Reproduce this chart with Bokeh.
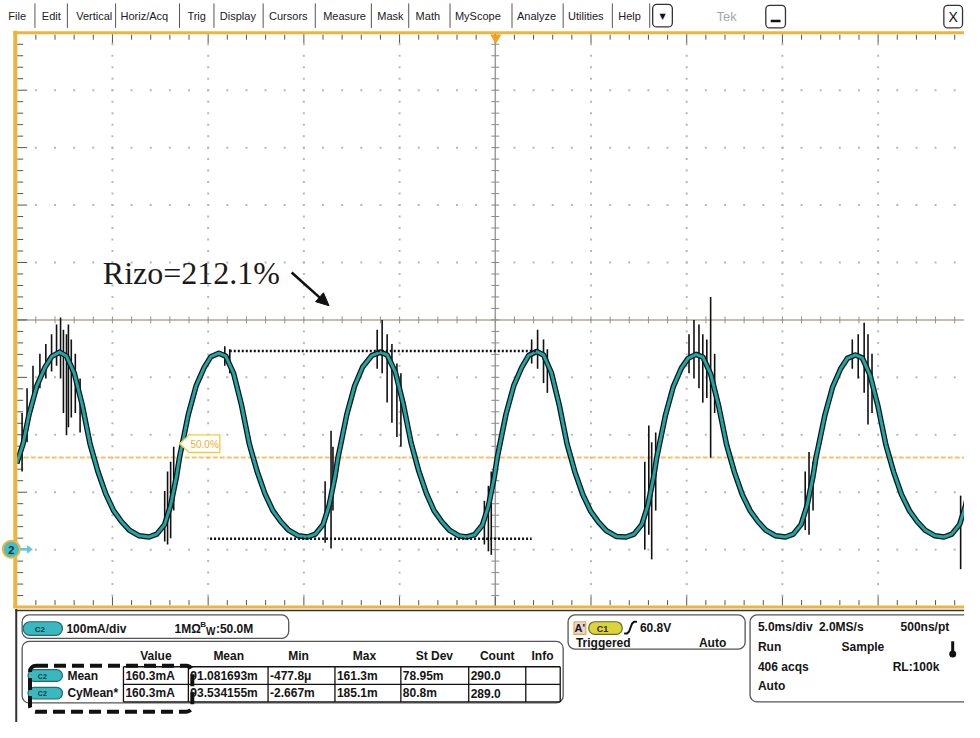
import numpy as np
from bokeh.plotting import figure
from bokeh.models import Range1d
from bokeh.embed import file_html
from bokeh.resources import INLINE
from bokeh.core.properties import value

# ---------------- data ----------------
# Channel 2 current, time in ms (trigger = 0), current in mA
trace_t_ms = [
    -25.00, -24.67, -24.36, -23.95, -23.53, -23.18, -22.76, -22.40, -21.99, -21.58, -21.17, -20.76, -20.35, -19.94, -19.53, -19.12, -18.60,
    -18.09, -17.68, -17.27, -16.96, -16.65, -16.50, -16.35, -16.04, -15.63, -15.21, -14.86, -14.44, -14.08, -13.67, -13.26, -12.85, -12.44, -12.03, -11.62, -11.21, -10.80, -10.28,
    -9.81, -9.40, -8.99, -8.68, -8.37, -8.22, -8.07, -7.76, -7.35, -6.93, -6.45, -6.00, -5.65, -5.22, -4.81, -4.40, -4.00, -3.60, -3.20, -2.80, -2.40, -1.90,
    -1.49, -1.08, -0.67, -0.36, -0.05, 0.10, 0.25, 0.56, 0.97, 1.39, 1.74, 2.16, 2.52, 2.93, 3.34, 3.75, 4.16, 4.57, 4.98, 5.39, 5.80, 6.32,
    6.84, 7.25, 7.66, 7.97, 8.28, 8.43, 8.58, 8.89, 9.30, 9.72, 10.07, 10.49, 10.85, 11.26, 11.67, 12.08, 12.49, 12.90, 13.31, 13.72, 14.13, 14.65,
    15.16, 15.57, 15.98, 16.29, 16.60, 16.75, 16.90, 17.21, 17.62, 18.04, 18.39, 18.81, 19.17, 19.58, 19.99, 20.40, 20.81, 21.22, 21.63, 22.04, 22.45, 22.97,
    23.44, 23.85, 24.26, 24.57, 24.88,
]
trace_i_mA = [
    150, 184, 235, 285, 317, 336, 344, 337, 307, 252, 184, 136, 97, 68, 49, 34, 24,
    22, 27, 44, 77, 128, 160, 184, 235, 285, 317, 336, 342, 337, 307, 252, 184, 136, 97, 68, 49, 34, 24,
    22, 27, 44, 77, 128, 160, 184, 235, 285, 318, 338, 344, 339, 309, 254, 186, 137, 98, 68, 49, 34, 24,
    22, 26, 43, 76, 127, 160, 185, 236, 286, 318, 338, 345, 339, 308, 252, 184, 135, 96, 67, 48, 33, 23,
    22, 27, 44, 77, 128, 160, 184, 234, 284, 316, 333, 340, 335, 305, 250, 183, 135, 96, 68, 49, 34, 24,
    22, 27, 44, 77, 128, 160, 183, 233, 283, 315, 333, 339, 334, 304, 250, 183, 135, 96, 68, 49, 34, 24,
    22, 27, 44, 77, 128,
]
# noise spikes on the raw (black) trace
spike_t_ms = [-24.72, -24.46, -24.15, -23.79, -23.48, -23.18, -22.92, -22.71, -22.56, -22.40, -22.30, -22.15, -21.94, -21.69,
              -17.27, -17.12, -16.96, -16.80, -14.13, -13.87, -8.89, -8.58, -8.48,
              -6.17, -5.91, -5.65, -5.40, -5.14, -4.93, -0.57, -0.36, -0.21,
              1.90, 2.21, 2.52, 2.72, 7.81, 8.02, 8.17, 8.38,
              10.12, 10.38, 10.64, 10.84, 11.05, 11.25, 11.46, 16.19, 16.39, 16.60,
              18.65, 18.96, 19.27, 19.47, 19.68, 24.31]
spike_hi_mA = [238, 281, 320, 341, 358, 375, 392, 404, 383, 375, 392, 366, 341, 298,
               102, 136, 153, 179, 354, 349, 119, 207, 179,
               383, 400, 375, 358, 324, 307, 85, 111, 136,
               366, 383, 366, 349, 153, 216, 187, 204,
               375, 400, 392, 375, 366, 440, 341, 136, 170, 153,
               366, 375, 395, 375, 341, 94]
spike_lo_mA = [136, 187, 247, 281, 298, 310, 320, 298, 238, 199, 213, 230, 238, 204,
               14, 9, 20, 68, 320, 307, 12, 2, 68,
               315, 307, 256, 221, 196, 179, 9, -3, -9,
               324, 315, 290, 273, 0, 26, -17, 68,
               307, 298, 281, 256, 264, 160, 238, 34, 26, 68,
               315, 298, 273, 218, 238, -34]
trigger_level_mA = 160.3
ref_hi_mA, ref_hi_t = 346, [-13.87, 2.16]
ref_lo_mA, ref_lo_t = 19, [-14.90, 1.90]

menu_items = ["File", "Edit", "Vertical", "Horiz/Acq", "Trig", "Display", "Cursors",
              "Measure", "Mask", "Math", "MyScope", "Analyze", "Utilities", "Help"]
table_headers = ["Value", "Mean", "Min", "Max", "St Dev", "Count", "Info"]
row_names = ["Mean", "CyMean*"]
row_values = [["160.3mA", "91.081693m", "-477.8\u03bc", "161.3m", "78.95m", "290.0", ""],
              ["160.3mA", "93.534155m", "-2.667m", "185.1m", "80.8m", "289.0", ""]]

# ---------------- layout geometry ----------------
T0_PX, PX_PER_MS = 503.0, 19.46      # screen x of t=0, px per ms (reference pixels)
I0_PX, PX_PER_MA = 561.3, 0.587      # screen y of 0 mA, px per mA
REF_W, REF_H = 980, 738              # reference picture size
W, H = 964, 722                      # figure size (fits window with 8px margin)

def ms_at(px):
    return (px - T0_PX) / PX_PER_MS

def ma_at(py):
    return (I0_PX - py) / PX_PER_MA

p = figure(width=W, height=H, output_backend="svg", toolbar_location=None, title=None,
           x_range=Range1d(ms_at(0), ms_at(REF_W)),
           y_range=Range1d(ma_at(REF_H), ma_at(0)),
           x_axis_location=None, y_axis_location=None, min_border=0,
           border_fill_color="white", background_fill_color="white")
p.outline_line_color = None
p.grid.visible = False
p.extra_x_ranges = {"px": Range1d(0, REF_W)}
p.extra_y_ranges = {"px": Range1d(REF_H, 0)}
PX = dict(x_range_name="px", y_range_name="px")
FONT = "Liberation Sans"

def txt(x, y, s, size=12, bold=True, color="#151515", align="left", font=FONT, baseline="middle"):
    p.text(x=[x], y=[y], text=[s], text_font=value(font), text_font_size=f"{size}px",
           text_font_style="bold" if bold else "normal", text_color=color,
           text_align=align, text_baseline=baseline, **PX)

def rbox(l, t, r, b, radius=6, line_color="#555555", line_width=1.3, fill_color=None, dash="solid"):
    p.quad(left=[l], right=[r], top=[t], bottom=[b], border_radius=int(radius),
           line_color=line_color, line_width=line_width, fill_color=fill_color,
           line_dash=dash, **PX)

def pline(xs, ys, **kw):
    p.line(xs, ys, **PX, **kw)

# ---------------- graticule ----------------
T_DIV, I_DIV = 5.0, 100.0
t_left, t_right, i_bot, i_top = -25.0, 25.0, -100.0, 900.0
t_mid, i_mid = 0.0, 400.0
major_t = [t_left + k * T_DIV for k in range(1, 10) if k != 5]
major_i = [i_bot + k * I_DIV for k in range(1, 10) if k != 5]
minor_t = [t_left + k * T_DIV / 5 for k in range(1, 50)]
minor_i = [i_bot + k * I_DIV / 5 for k in range(1, 50)]
gx = [t for t in major_t for _ in minor_i] + [t for _ in major_i for t in minor_t]
gy = [i for _ in major_t for i in minor_i] + [i for i in major_i for _ in minor_t]
p.scatter(gx, gy, marker="square", size=2, fill_color="#b8b8b8", line_color=None)

p.line([t_left, t_right], [i_mid, i_mid], line_color="#b1a893", line_width=1.5)
p.line([t_mid, t_mid], [i_bot, i_top], line_color="#9c9c9c", line_width=1.5)
p.scatter(minor_t, [i_mid] * len(minor_t), marker="dash", angle=np.pi / 2, size=7,
          line_color="#9a927f", line_width=1)
p.scatter([t_mid] * len(minor_i), minor_i, marker="dash", size=8, line_color="#8a8a8a", line_width=1)

is_major_t = [abs(t / T_DIV - round(t / T_DIV)) < 1e-6 for t in minor_t]
is_major_i = [abs((i - i_bot) / I_DIV - round((i - i_bot) / I_DIV)) < 1e-6 for i in minor_i]
for edge_py, edge_major_py in [(37.5, 39.0), (615.5, 614.0)]:
    p.scatter(minor_t, [ma_at(edge_major_py) if m else ma_at(edge_py) for m in is_major_t],
              marker="dash", angle=np.pi / 2, size=[9 if m else 5 for m in is_major_t],
              line_color="#555555", line_width=1)
p.scatter([ms_at(22) if m else ms_at(20) for m in is_major_i], minor_i, marker="dash",
          size=[10 if m else 6 for m in is_major_i], line_color="#555555", line_width=1)

# trigger level (50%)
p.line([t_left, t_right], [trigger_level_mA] * 2, line_color="#f3c468", line_width=2, line_dash="5 2")

# ---------------- waveform ----------------
p.line(trace_t_ms, trace_i_mA, line_color="#111111", line_width=5.5, line_join="round")
p.segment(x0=spike_t_ms, y0=spike_lo_mA, x1=spike_t_ms, y1=spike_hi_mA, line_color="#111111", line_width=1.6)
p.line(trace_t_ms, trace_i_mA, line_color="#1fa5a5", line_width=3, line_join="round")

# dotted reference levels
p.line(ref_hi_t, [ref_hi_mA] * 2, line_color="#111111", line_width=2.5, line_dash="2 2")
p.line(ref_lo_t, [ref_lo_mA] * 2, line_color="#111111", line_width=2.5, line_dash="2 2")

# 50% label
p.patch([182, 192, 223, 223, 192], [453, 444, 444, 462, 462], fill_color="white",
        line_color="#f5c842", line_width=1.3, **PX)
txt(207.5, 453.5, "50.0%", size=10, bold=False, color="#f0b030", align="center")

# Rizo annotation
txt(104, 279, "Rizo=212.1%", size=32, bold=False, color="#1a1a1a", font="Liberation Serif",
    baseline="alphabetic")
pline([296, 326], [278, 305], line_color="#111111", line_width=2.5)
p.patch([334, 320.3, 328.3], [312, 307.8, 298.8], fill_color="#111111", line_color="#111111", **PX)

# ---------------- frame borders ----------------
ORANGE = "#f0b43c"
pline([13, REF_W], [33, 33], line_color=ORANGE, line_width=3)
pline([15, 15], [31, 621], line_color=ORANGE, line_width=4)
pline([13, REF_W], [620, 620], line_color=ORANGE, line_width=3)
pline([15, REF_W], [623.5, 623.5], line_color="#333333", line_width=1.5)
pline([16, 16], [622, REF_H], line_color="#333333", line_width=2)
p.scatter([503.5], [38], marker="inverted_triangle", size=11, fill_color="#f5a020", line_color=None, **PX)

# ground marker for channel 2
p.scatter([11], [561], marker="circle", size=17, fill_color="#3fbfca", line_color=ORANGE, line_width=2, **PX)
txt(11, 561.5, "2", size=11, color="#1a2a30", align="center")
pline([20, 28], [561, 561], line_color="#5ec8e4", line_width=2.5)
p.patch([33, 27, 27], [561, 556.5, 565.5], fill_color="#5ec8e4", line_color=None, **PX)

# ---------------- menu bar ----------------
menu_x = [8, 42, 77, 122, 190, 223, 273, 328, 383, 422, 462, 525, 577, 628]
for x, s in zip(menu_x, menu_items):
    txt(x, 16, s, size=11, bold=False, color="#202020")
for x in [35, 68, 117, 182, 217, 267, 320, 377, 415, 457, 520, 572, 622, 660]:
    pline([x, x], [3, 28], line_color="#555555", line_width=1)
rbox(663, 4, 683, 27, radius=4, line_color="#333333", line_width=1.3)
txt(673, 16, "\u25bc", size=8, bold=False, color="#111111", align="center", font="DejaVu Sans")
txt(728, 16, "Tek", size=13, bold=False, color="#a8a8a8")
rbox(778, 5, 798, 28, radius=4, line_color="#333333", line_width=1.3)
pline([783, 793], [21, 21], line_color="#111111", line_width=2.5)
rbox(959, 5, 978, 28, radius=4, line_color="#333333", line_width=1.3)
txt(968.5, 16.5, "X", size=14, bold=False, color="#111111", align="center")

# ---------------- bottom panel ----------------
def pill(l, t, r, b, fill, line, label, tcolor="#0c3a44", size=8):
    rbox(l, t, r, b, radius=(b - t) // 2, line_color=line, line_width=1.2, fill_color=fill)
    txt((l + r) / 2 - 3, (t + b) / 2 + 0.5, label, size=size, color=tcolor, align="center")

TEAL_P, TEAL_L = "#3ab7bf", "#1d6d74"
rbox(22, 628, 293, 652, radius=7)
pill(23, 635, 63, 649, TEAL_P, TEAL_L, "C2")
txt(67, 642, "100mA/div")
txt(177, 642, "1M\u03a9")
txt(203, 638, "B", size=8)
txt(209, 645, "W", size=10)
txt(219, 642, ":50.0M")

rbox(22, 655, 572, 718, radius=7)
header_x = [158, 232, 303, 370, 441, 505, 551]
for x, s in zip(header_x, table_headers):
    txt(x, 670, s, align="center")
cell_x = [125, 191, 272, 340, 407, 476, 534, 569]
for y in [681, 699, 717]:
    pline([cell_x[0], cell_x[-1]], [y, y], line_color="#111111", line_width=1.3)
for x in cell_x:
    pline([x, x], [681, 717], line_color="#111111", line_width=1.3)
for r, (name, vals) in enumerate(zip(row_names, row_values)):
    y = 690 + 18 * r
    pill(28, y - 6, 63, y + 6, TEAL_P, TEAL_L, "C2", size=7)
    txt(68, y, name)
    for x, s in zip(cell_x[:-1], vals):
        if s:
            txt(x + 2, y, s)
rbox(30, 680, 195, 727, radius=6, line_color="#111111", line_width=4, dash="12 6")

rbox(577, 628, 757, 663, radius=7)
p.quad(left=[583], right=[595], top=[635], bottom=[648], fill_color="#e6d6d6",
       line_color="#e8a848", line_width=1.2, **PX)
txt(589, 641.5, "A'", size=11, align="center")
pill(598, 635, 632, 648, "#dcd43c", "#6a6a20", "C1", tcolor="#2a2a10", size=9)
pline([634, 637, 639, 642, 644, 647], [647, 647, 645, 637, 635, 635], line_color="#111111", line_width=2)
txt(650, 641.5, "60.8V")
txt(585, 657, "Triggered")
txt(710, 657, "Auto")

rbox(762, 628, 990, 717, radius=7)
txt(770, 640, "5.0ms/div")
txt(832, 640, "2.0MS/s")
txt(915, 640, "500ns/pt")
txt(770, 661, "Run")
txt(855, 661, "Sample")
txt(770, 681, "406 acqs")
txt(907, 681, "RL:100k")
txt(770, 701, "Auto")
pline([968, 968], [655, 666], line_color="#111111", line_width=3)
p.scatter([968], [668], marker="circle", size=7, fill_color="#111111", line_color=None, **PX)

open("out.html", "w").write(file_html(p, INLINE))
